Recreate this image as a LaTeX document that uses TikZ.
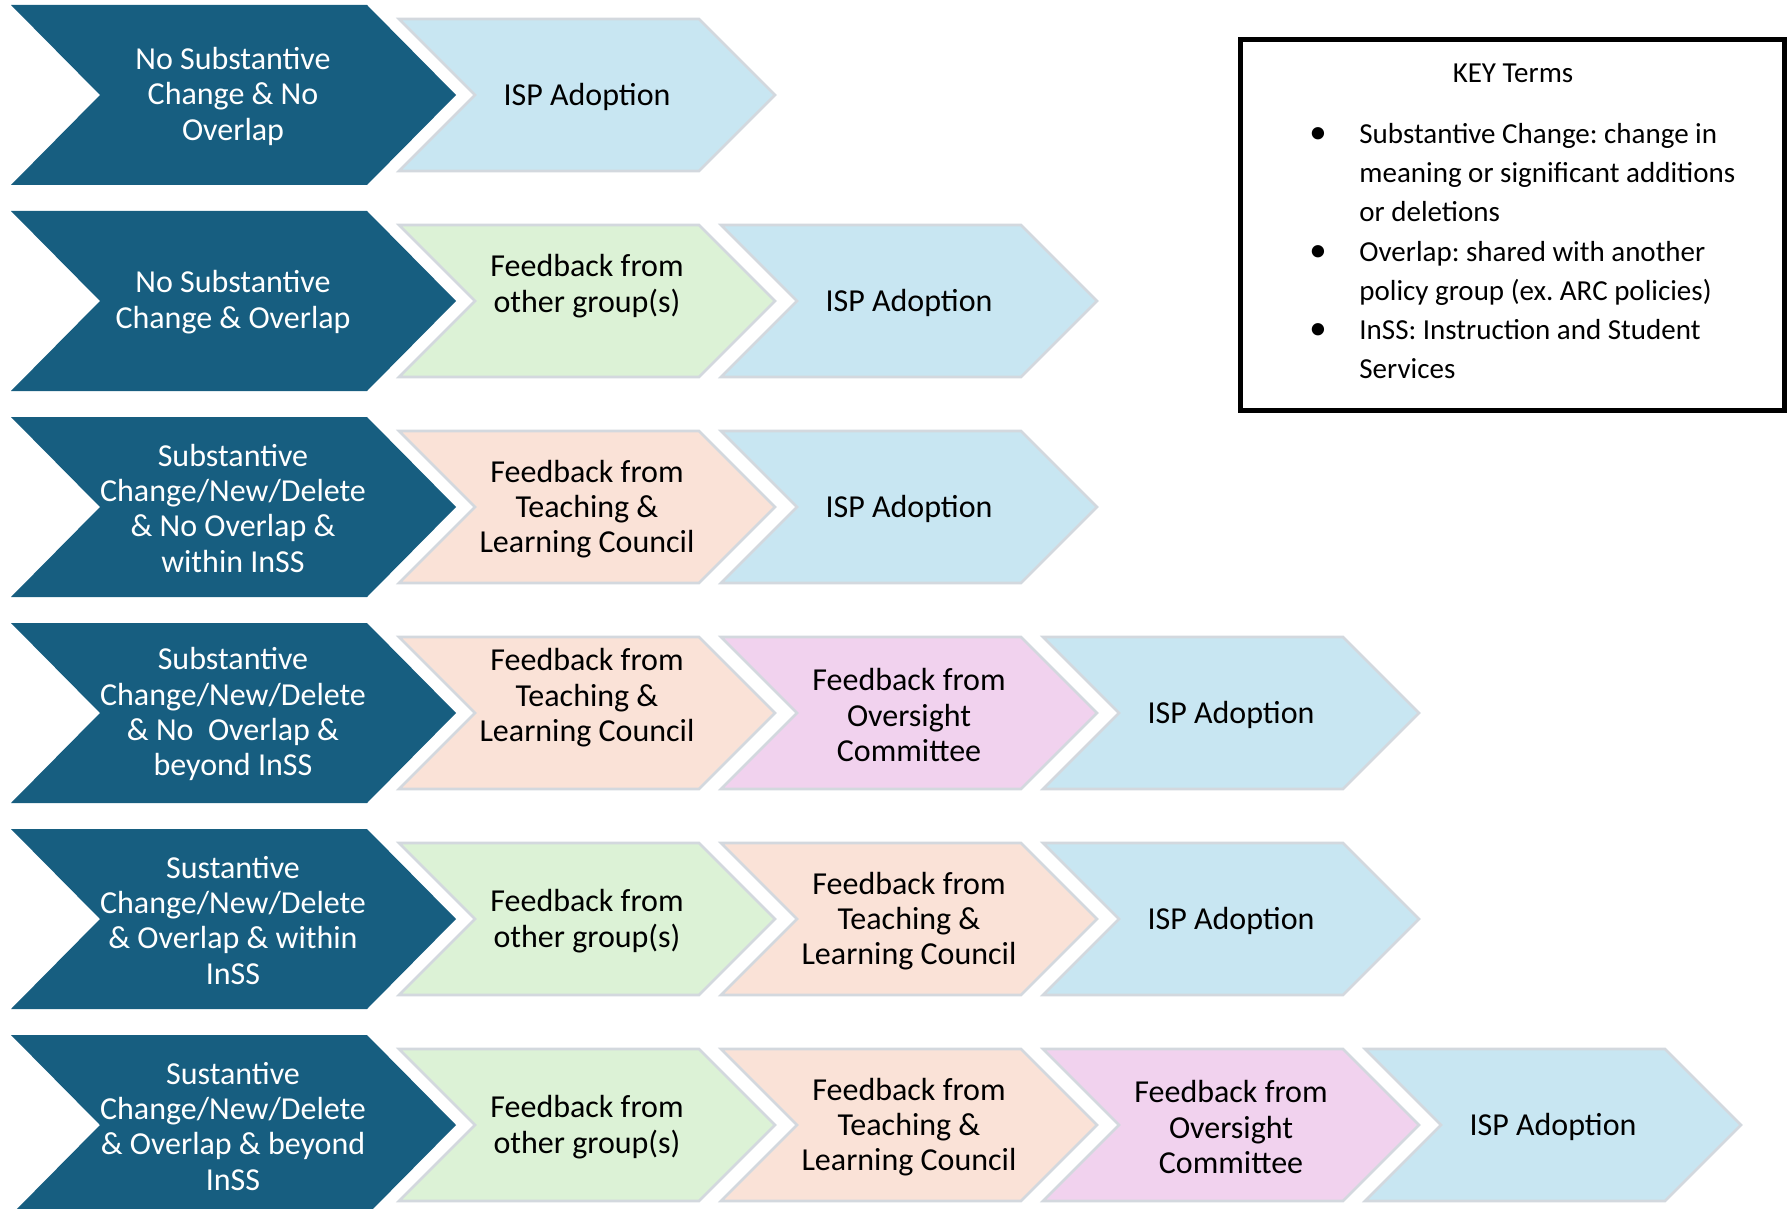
\documentclass[tikz,border=0pt]{standalone}
\usepackage{fontspec}
\setmainfont{Carlito}
\frenchspacing
\definecolor{startBlue}{RGB}{23,94,128}
\definecolor{isp}{RGB}{200,230,242}
\definecolor{other}{RGB}{220,242,214}
\definecolor{teach}{RGB}{250,226,215}
\definecolor{oversight}{RGB}{241,210,238}
\definecolor{stepEdge}{RGB}{211,216,222}
\tikzset{
  stepline/.style={draw=stepEdge, line width=1.3pt, line join=miter},
  steptext/.style={align=center, inner sep=0pt, text=black,
    font=\fontsize{16}{17.7}\selectfont},
  starttext/.style={steptext, text=white},
  keytext/.style={align=left, inner sep=0pt, anchor=north west,
    font=\fontsize{14.5}{19.5}\selectfont},
}
\newcommand{\drawStart}[3]{
  \fill[startBlue] (11,#2-90) -- ++(356,0) -- ++(89,90) -- ++(-89,90) -- ++(-356,0) -- ++(89,-90) -- cycle;
  \node[starttext, yshift=-0.6pt] (#1) at (233,#2) {#3};
}
\newcommand{\drawStep}[6][-1.1]{
  \draw[stepline, fill=#5] (#3,#4-76) -- ++(300,0) -- ++(76,76) -- ++(-76,76) -- ++(-300,0) -- ++(76,-76) -- cycle;
  \node[steptext, yshift=#1pt] (#2) at (#3+188,#4) {#6};
}
\begin{document}
\begin{tikzpicture}[x=0.5pt, y=-0.5pt]
  \useasboundingbox (0,0) rectangle (1787,1209);
  % Row 1
  \drawStart{startA}{95}{No Substantive\\Change \& No\\Overlap}
  \drawStep{ispA}{399}{95}{isp}{ISP Adoption}
  % Row 2
  \drawStart{startB}{301}{No Substantive\\Change \& Overlap}
  \drawStep[7.5]{otherB}{399}{301}{other}{Feedback from\\other group(s)}
  \drawStep{ispB}{721}{301}{isp}{ISP Adoption}
  % Row 3
  \drawStart{startC}{507}{Substantive\\Change/New/Delete\\\& No Overlap \&\\within InSS}
  \drawStep{teachC}{399}{507}{teach}{Feedback from\\Teaching \&\\Learning Council}
  \drawStep{ispC}{721}{507}{isp}{ISP Adoption}
  % Row 4
  \drawStart{startD}{713}{Substantive\\Change/New/Delete\\\& No~ Overlap \&\\beyond InSS}
  \drawStep[7.5]{teachD}{399}{713}{teach}{Feedback from\\Teaching \&\\Learning Council}
  \drawStep{overD}{721}{713}{oversight}{Feedback from\\Oversight\\Committee}
  \drawStep{ispD}{1043}{713}{isp}{ISP Adoption}
  % Row 5
  \drawStart{startE}{919}{Sustantive\\Change/New/Delete\\\& Overlap \& within\\InSS}
  \drawStep{otherE}{399}{919}{other}{Feedback from\\other group(s)}
  \drawStep{teachE}{721}{919}{teach}{Feedback from\\Teaching \&\\Learning Council}
  \drawStep{ispE}{1043}{919}{isp}{ISP Adoption}
  % Row 6
  \drawStart{startF}{1125}{Sustantive\\Change/New/Delete\\\& Overlap \& beyond\\InSS}
  \drawStep{otherF}{399}{1125}{other}{Feedback from\\other group(s)}
  \drawStep{teachF}{721}{1125}{teach}{Feedback from\\Teaching \&\\Learning Council}
  \drawStep{overF}{1043}{1125}{oversight}{Feedback from\\Oversight\\Committee}
  \drawStep{ispF}{1365}{1125}{isp}{ISP Adoption}
  % Key
  \node[draw, line width=2.5pt, minimum width=272pt, minimum height=185pt] (key) at (1512,225) {};
  \node[steptext, font=\fontsize{14.5}{17.7}\selectfont] (keyTitle) at (1513,73) {KEY Terms};
  \node[keytext] (termA) at (1359,123) {Substantive Change: change in\\meaning or significant additions\\or deletions};
  \node[keytext] (termB) at (1359,241) {Overlap: shared with another\\policy group (ex. ARC policies)};
  \node[keytext] (termC) at (1359,319) {InSS: Instruction and Student\\Services};
  \node[keytext, anchor=north, scale=1.2] (dotA) at (1318,127) {\textbullet};
  \node[keytext, anchor=north, scale=1.2] (dotB) at (1318,245) {\textbullet};
  \node[keytext, anchor=north, scale=1.2] (dotC) at (1318,323) {\textbullet};
\end{tikzpicture}
\end{document}
